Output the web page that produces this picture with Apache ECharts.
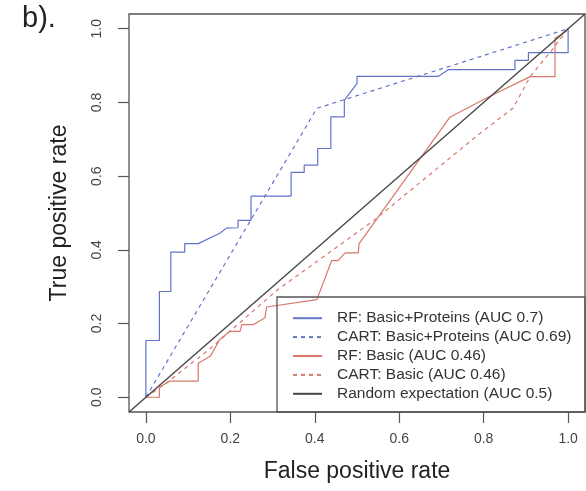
<!DOCTYPE html>
<html>
<head>
<meta charset="utf-8">
<script src="https://cdn.jsdelivr.net/npm/echarts@6/dist/echarts.min.js"></script>
<style>
  html, body { margin: 0; padding: 0; background: #fff; }
  #chart { width: 586px; height: 491px; }
</style>
</head>
<body>
<div id="chart"></div>
<script>
// [false positive rate, true positive rate]
const rfBasicProteins = [
  [0, 0], [0, 0.154], [0.032, 0.154], [0.032, 0.287], [0.059, 0.287], [0.059, 0.394],
  [0.092, 0.394], [0.092, 0.417], [0.124, 0.417], [0.175, 0.445], [0.191, 0.459],
  [0.218, 0.46], [0.218, 0.48], [0.249, 0.48], [0.249, 0.546], [0.344, 0.546],
  [0.344, 0.61], [0.375, 0.61], [0.375, 0.63], [0.407, 0.63], [0.407, 0.675],
  [0.438, 0.675], [0.438, 0.761], [0.47, 0.761], [0.47, 0.806], [0.5, 0.851],
  [0.5, 0.871], [0.693, 0.871], [0.716, 0.889], [0.874, 0.889], [0.874, 0.914],
  [0.906, 0.914], [0.906, 0.935], [1, 0.935], [1, 1]
]
const cartBasicProteins = [[0, 0], [0.405, 0.784], [1, 1]]
const rfBasic = [
  [0, 0], [0.032, 0], [0.032, 0.027], [0.057, 0.044], [0.124, 0.044], [0.124, 0.092],
  [0.152, 0.111], [0.159, 0.124], [0.175, 0.157], [0.199, 0.179], [0.223, 0.179],
  [0.227, 0.197], [0.254, 0.197], [0.282, 0.216], [0.286, 0.245], [0.405, 0.265],
  [0.44, 0.371], [0.455, 0.371], [0.472, 0.392], [0.503, 0.392], [0.505, 0.417],
  [0.72, 0.76], [0.81, 0.814], [0.91, 0.87], [0.969, 0.87], [0.969, 0.974],
  [0.985, 0.985], [1, 1]
]
const cartBasic = [
  [0, 0], [0.05, 0.04], [0.15, 0.13], [0.31, 0.29], [0.54, 0.48], [0.79, 0.715],
  [0.87, 0.785], [0.91, 0.87], [0.96, 0.94], [1, 1]
]
const randomLine = [[-0.04, -0.04], [1.04, 1.04]]

const seriesNames = [
  'RF: Basic+Proteins (AUC 0.7)',
  'CART: Basic+Proteins (AUC 0.69)',
  'RF: Basic (AUC 0.46)',
  'CART: Basic (AUC 0.46)',
  'Random expectation (AUC 0.5)'
]
const tickValues = [0, 0.2, 0.4, 0.6, 0.8, 1.0]

const blue = '#6274c8'
const red = '#d8776a'
const dark = '#474747'
const font = '"Liberation Sans", Arial, Helvetica, sans-serif'

function lineSeries(name, data, color, dashed, width) {
  return {
    name,
    type: 'line',
    data,
    symbol: 'none',
    showSymbol: false,
    animation: false,
    lineStyle: { color, width: width || 1.2, type: dashed ? [4, 4] : 'solid' },
    itemStyle: { color },
    emphasis: { disabled: true },
  }
}

function axisCommon(isY) {
  return {
    type: 'value',
    min: -0.04,
    max: 1.04,
    axisLine: { show: false, onZero: false },
    splitLine: { show: false },
    axisTick: {
      show: true,
      customValues: tickValues,
      length: 11,
      lineStyle: { color: '#555', width: 1.2 },
    },
    axisLabel: {
      customValues: tickValues,
      formatter: (v) => v.toFixed(1),
      fontFamily: font,
      fontSize: 14,
      color: '#444',
      margin: isY ? 25 : 20,
      rotate: isY ? 90 : 0,
    },
    nameLocation: 'middle',
    nameTextStyle: { fontFamily: font, fontSize: 23, color: '#222' },
  }
}

const chart = echarts.init(document.getElementById('chart'))
chart.setOption({
  backgroundColor: '#fff',
  animation: false,
  grid: {
    left: 129, top: 14, width: 456, height: 398,
    show: true, borderColor: '#555', borderWidth: 1.3,
  },
  xAxis: Object.assign(axisCommon(false), { name: 'False positive rate', nameGap: 48 }),
  yAxis: Object.assign(axisCommon(true), { name: 'True positive rate', nameGap: 58 }),
  legend: {
    data: seriesNames,
    orient: 'vertical',
    left: 292,
    top: 309,
    padding: 0,
    itemWidth: 29,
    itemHeight: 14,
    itemGap: 0.5,
    selectedMode: false,
    itemStyle: { color: 'rgba(0,0,0,0)', borderWidth: 0 },
    textStyle: {
      fontFamily: font, fontSize: 15.5, color: '#333',
      lineHeight: 18.4, padding: [0, 0, 0, 10],
    },
  },
  graphic: [
    {
      type: 'rect',
      shape: { x: 277, y: 297, width: 308, height: 115 },
      style: { fill: 'none', stroke: '#555', lineWidth: 1.3 },
      z: 100,
    },
    {
      type: 'text',
      left: 22,
      top: 4,
      style: { text: 'b).', fontFamily: font, fontSize: 29, fill: '#222' },
    },
  ],
  series: [
    lineSeries(seriesNames[0], rfBasicProteins, blue, false),
    lineSeries(seriesNames[1], cartBasicProteins, blue, true),
    lineSeries(seriesNames[2], rfBasic, red, false),
    lineSeries(seriesNames[3], cartBasic, red, true),
    lineSeries(seriesNames[4], randomLine, dark, false, 1.4),
  ],
})
</script>
</body>
</html>
